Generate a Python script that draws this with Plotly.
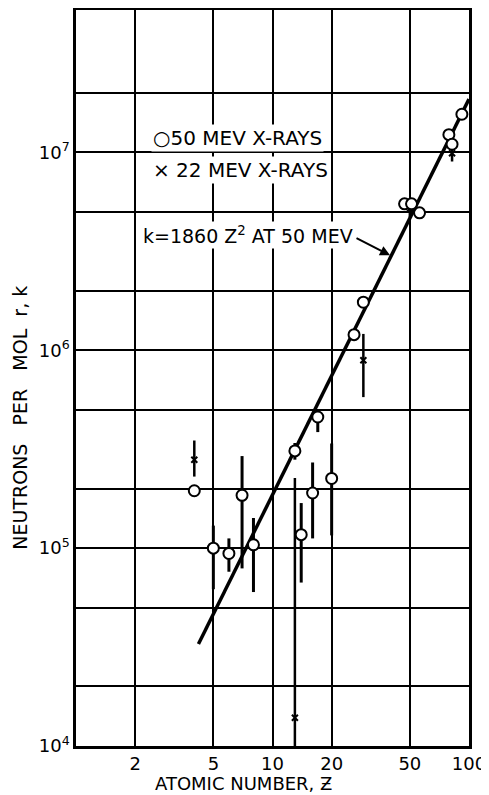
import plotly.graph_objects as go

# ---- data ----
z50 = [4, 5, 6, 7, 8, 13, 14, 16, 17, 20, 26, 29, 47, 51, 56, 79, 82, 92]
k50 = [1.95e5, 1.0e5, 9.4e4, 1.85e5, 1.04e5, 3.1e5, 1.17e5, 1.9e5, 4.6e5, 2.25e5,
       1.2e6, 1.75e6, 5.5e6, 5.5e6, 4.95e6, 1.23e7, 1.1e7, 1.56e7]
k50_hi = [1.95e5, 1.3e5, 1.12e5, 2.92e5, 1.42e5, 3.4e5, 1.69e5, 2.71e5, 4.9e5, 3.38e5,
          1.2e6, 1.75e6, 5.5e6, 5.5e6, 4.95e6, 1.23e7, 1.1e7, 1.56e7]
k50_lo = [1.95e5, 6.2e4, 7.6e4, 7.9e4, 6.0e4, 2.8e5, 6.7e4, 1.12e5, 3.86e5, 1.16e5,
          1.2e6, 1.75e6, 5.5e6, 5.5e6, 4.95e6, 1.23e7, 1.1e7, 1.56e7]

z22 = [4, 13, 29, 50, 82]
k22 = [2.8e5, 1.39e4, 8.9e5, 5.2e6, 9.9e6]
k22_hi = [3.5e5, 2.26e5, 1.21e6, 5.8e6, 1.1e7]
k22_lo = [2.3e5, 1.0e4, 5.8e5, 4.7e6, 9.0e6]

line_z = [4.2, 100]
line_k = [3.28e4, 1.86e7]

x_ticks = [2, 5, 10, 20, 50, 100]
x_labels = ["2", "5", "10", "20", "50", "100"]
y_ticks = [1e4, 2e4, 5e4, 1e5, 2e5, 5e5, 1e6, 2e6, 5e6, 1e7, 2e7]
y_labels = ["10<sup>4</sup>", "", "", "10<sup>5</sup>", "", "", "10<sup>6</sup>", "", "",
            "10<sup>7</sup>", ""]

FONT = "DejaVu Sans"
SP = "\u00a0"

fig = go.Figure()

fig.add_trace(go.Scatter(
    x=line_z, y=line_k, mode="lines",
    line=dict(color="black", width=3.5), hoverinfo="skip", showlegend=False))

fig.add_trace(go.Scatter(
    x=z22, y=k22, mode="markers",
    marker=dict(symbol="x-thin", size=6, line=dict(color="black", width=2)),
    error_y=dict(type="data", symmetric=False,
                 array=[h - v for h, v in zip(k22_hi, k22)],
                 arrayminus=[v - l for v, l in zip(k22, k22_lo)],
                 color="black", thickness=2.5, width=0),
    showlegend=False))

fig.add_trace(go.Scatter(
    x=z50, y=k50, mode="markers",
    marker=dict(symbol="circle", size=11, color="white",
                line=dict(color="black", width=2)),
    error_y=dict(type="data", symmetric=False,
                 array=[h - v for h, v in zip(k50_hi, k50)],
                 arrayminus=[v - l for v, l in zip(k50, k50_lo)],
                 color="black", thickness=3, width=0),
    showlegend=False))

txt = dict(family=FONT, size=19, color="black")

annotations = [
    dict(text="○50" + SP + "MEV" + SP + "X-RAYS", xref="paper", yref="paper", x=0.19, y=0.826,
         xanchor="left", yanchor="middle", showarrow=False,
         font=dict(family=FONT, size=20, color="black"), bgcolor="white"),
    dict(text="×" + SP + "22" + SP + "MEV" + SP + "X-RAYS", xref="paper", yref="paper", x=0.19, y=0.783,
         xanchor="left", yanchor="middle", showarrow=False,
         font=dict(family=FONT, size=20, color="black"), bgcolor="white"),
    dict(text="k=1860" + SP + "Z<sup>2</sup>" + SP + "AT" + SP + "50" + SP + "MEV",
         xref="paper", yref="paper", x=0.165, y=0.694,
         xanchor="left", yanchor="middle", showarrow=False, font=txt, bgcolor="white"),
    dict(text="", x=1.598, y=6.48, xref="x", yref="y", showarrow=True,
         ax=-35, ay=-18, arrowhead=2, arrowsize=1, arrowwidth=2, arrowcolor="black"),
    dict(text="ATOMIC" + SP + "NUMBER," + SP + "Ƶ", xref="paper", yref="paper", x=0.425, y=-0.051,
         xanchor="center", yanchor="middle", showarrow=False,
         font=dict(family=FONT, size=18, color="black")),
    dict(text="NEUTRONS" + SP * 3 + "PER" + SP * 3 + "MOL" + SP * 2 + "r," + SP + "k",
         xref="paper", yref="paper", x=-0.1425, y=0.446,
         xanchor="center", yanchor="middle", showarrow=False, font=txt, textangle=-90),
]

# the page body has an 8px default margin, so the figure is sized/offset to compensate
fig.update_layout(
    width=481, height=787,
    margin=dict(l=68, r=20, t=2, b=49),
    paper_bgcolor="white", plot_bgcolor="white",
    annotations=annotations,
    font=dict(family=FONT, size=18, color="black"),
)

fig.update_xaxes(type="log", range=[0, 2], tickmode="array", tickvals=x_ticks,
                 ticktext=x_labels, showgrid=True, gridcolor="black", gridwidth=2,
                 showline=True, linecolor="black", linewidth=2.5, mirror=True,
                 ticks="", zeroline=False, automargin=False,
                 tickfont=dict(family=FONT, size=18))
fig.update_yaxes(type="log", range=[4, 7.72], tickmode="array", tickvals=y_ticks,
                 ticktext=y_labels, showgrid=True, gridcolor="black", gridwidth=2,
                 showline=True, linecolor="black", linewidth=2.5, mirror=True,
                 ticks="", zeroline=False, automargin=False,
                 tickfont=dict(family=FONT, size=18))

fig.write_html("out.html")
